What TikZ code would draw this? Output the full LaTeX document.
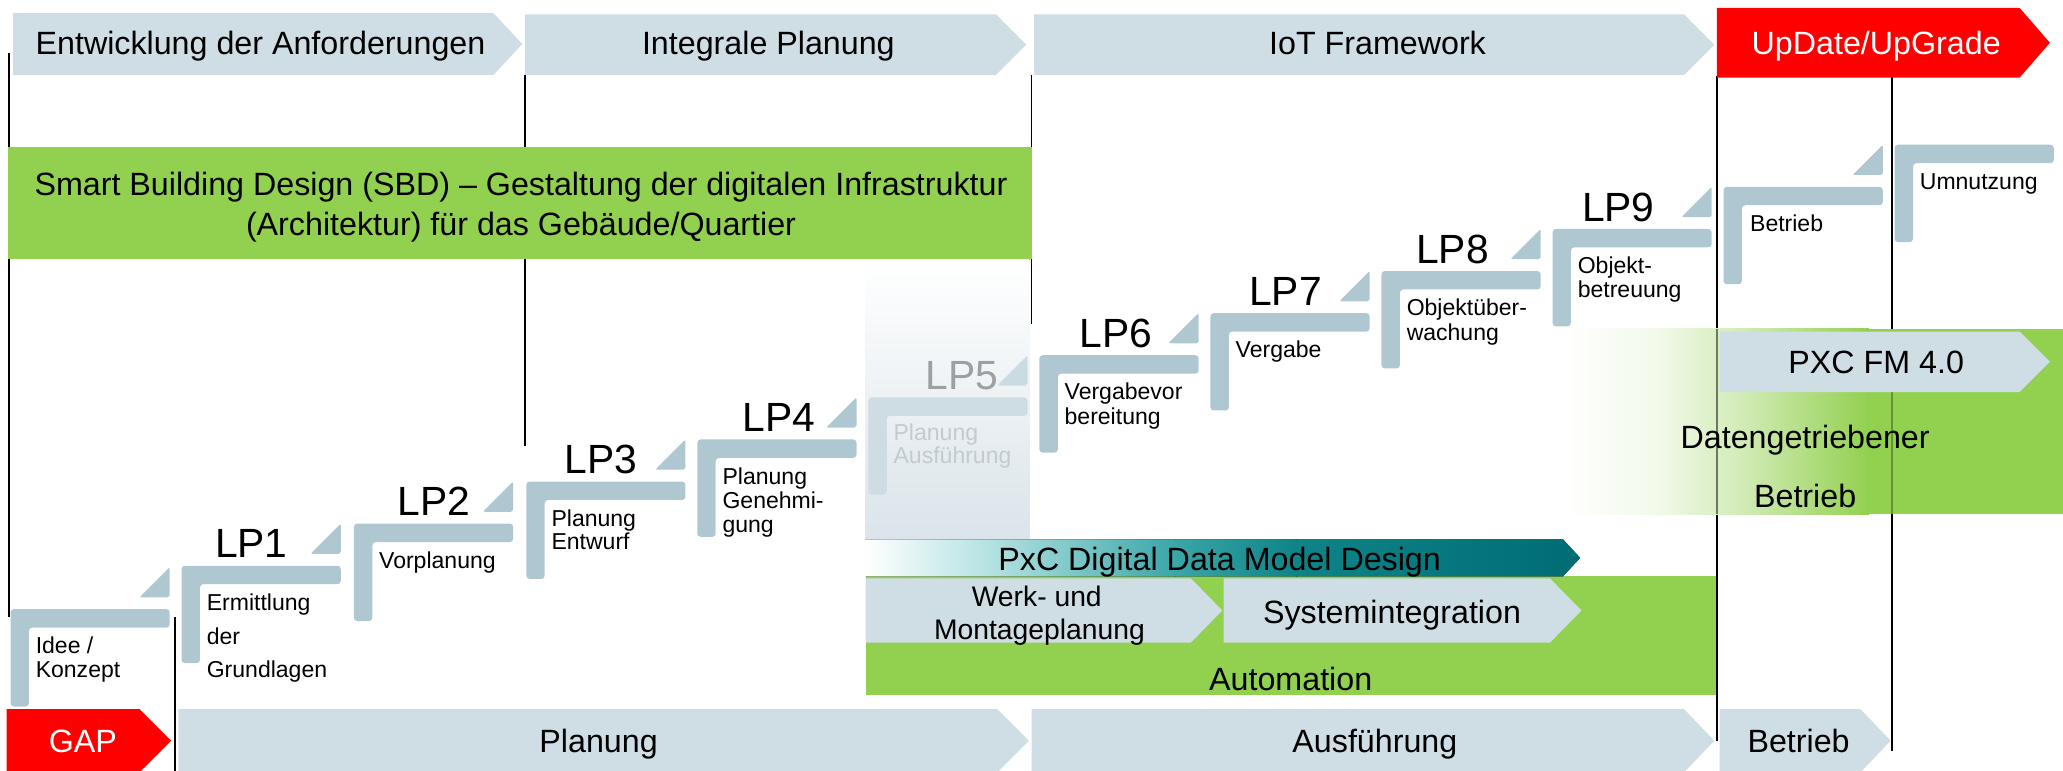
\documentclass[tikz,border=0pt]{standalone}
\usepackage{fontspec}
\setmainfont{Liberation Sans}
\definecolor{arr}{RGB}{207,221,229}
\definecolor{stp}{RGB}{174,199,209}
\definecolor{gr}{RGB}{146,208,80}
\definecolor{rd}{RGB}{255,0,0}
\definecolor{stpf}{RGB}{206,221,227}
\definecolor{rampf}{RGB}{203,219,226}
\definecolor{colbg}{RGB}{218,228,234}
\definecolor{lpf}{RGB}{155,160,163}
\definecolor{subf}{RGB}{195,203,207}
\definecolor{pxa}{RGB}{176,224,224}
\definecolor{pxb}{RGB}{58,166,168}
\definecolor{pxc}{RGB}{14,132,136}
\definecolor{pxd}{RGB}{0,108,116}
\newcommand{\chevpath}[5]{(#1,#4) -- (#2,#4) -- (#3,{(#4+#5)/2}) -- (#2,#5) -- (#1,#5) -- cycle}
\newcommand{\stairpath}[2]{(#1,#2) -- ({#1+121},#2) -- ({#1+121},{#2+14}) -- ({#1+14},{#2+14}) -- ({#1+14},{#2+74}) -- (#1,{#2+74}) -- cycle}
\newcommand{\ramppath}[2]{({#1+98},{#2-9}) -- ({#1+121},{#2-9}) -- ({#1+121},{#2-32}) -- cycle}
\newcommand{\vlines}[2]{\vtop{\baselineskip=#1pt\lineskiplimit=-20pt\relax #2}}
\tikzset{
 sep/.style={line width=1.3pt, black},
 bigt/.style={font=\fontsize{24.5}{29}\selectfont, inner sep=0pt, anchor=base},
 lpt/.style={font=\fontsize{31}{37}\selectfont, inner sep=0pt, anchor=base},
 subt/.style={font=\fontsize{17.5}{19}\selectfont, inner sep=0pt, anchor=base west},
 midt/.style={font=\fontsize{21.5}{25}\selectfont, inner sep=0pt, anchor=base},
}
\begin{document}
\begin{tikzpicture}[x=1pt,y=-1pt]
\useasboundingbox (0,0) rectangle (1568,586);
% separator lines
\coordinate (s1a) at (7,40); \coordinate (s1b) at (7,469);
\coordinate (s2a) at (133,469); \coordinate (s2b) at (133,587);
\coordinate (s3a) at (399,57); \coordinate (s3b) at (399,339);
\coordinate (s4a) at (784,57); \coordinate (s4b) at (784,246);
\coordinate (s5a) at (1305,58); \coordinate (s5b) at (1305,563);
\coordinate (s6a) at (1438,58); \coordinate (s6b) at (1438,571);
\foreach \a/\b in {s1a/s1b,s2a/s2b,s3a/s3b,s4a/s4b,s5a/s5b,s6a/s6b} \draw[sep] (\a) -- (\b);

% top row
\fill[arr] \chevpath{10}{375}{397}{10}{57};
\fill[arr] \chevpath{399}{757}{780}{11}{57};
\fill[arr] \chevpath{786}{1280}{1303}{11}{57};
\fill[rd] \chevpath{1305}{1535}{1558}{6}{59};
\node[bigt] (t1) at (198,41.8) {Entwicklung der Anforderungen};
\node[bigt] (t2) at (584,41.8) {Integrale Planung};
\node[bigt] (t3) at (1047,41.8) {IoT Framework};
\node[bigt, text=white] (t4) at (1426,41.8) {UpDate/UpGrade};

% SBD band
\fill[gr] (6.3,112) rectangle (784.6,197);
\node[bigt] (sbd1) at (396,148.8) {Smart Building Design (SBD) – Gestaltung der digitalen Infrastruktur};
\node[bigt] (sbd2) at (396,178.8) {(Architektur) für das Gebäude/Quartier};

% faded LP5 column
\fill[top color=white, bottom color=colbg] (658,197) rectangle (782.5,410);

% stairs
\foreach \x/\t in {8/463,138/430,269/398,400/366,530/334,790/270,920/238,1050/206,1180/174,1310/142,1440/110}
  \fill[stp, rounded corners=2.5pt] \stairpath{\x}{\t};
\foreach \x/\t in {8/463,138/430,269/398,400/366,530/334,790/270,920/238,1050/206,1180/174,1310/142}
  \fill[stp, rounded corners=1.5pt] \ramppath{\x}{\t};
\fill[stpf, rounded corners=2.5pt] \stairpath{660}{302};
\fill[rampf, rounded corners=1.5pt] \ramppath{660}{302};

% LP labels
\node[lpt] (lp1) at (191,424) {LP1};
\node[lpt] (lp2) at (330,392) {LP2};
\node[lpt] (lp3) at (457,360) {LP3};
\node[lpt] (lp4) at (592,328) {LP4};
\node[lpt, text=lpf] (lp5) at (731,296) {LP5};
\node[lpt] (lp6) at (848,264) {LP6};
\node[lpt] (lp7) at (977,232) {LP7};
\node[lpt] (lp8) at (1104,200) {LP8};
\node[lpt] (lp9) at (1230,168) {LP9};

% stair texts
\node[subt] (st0) at (27,497) {\vlines{18}{\hbox{Idee /}\hbox{Konzept}}};
\node[subt] (st1) at (157,464) {\vlines{25.5}{\hbox{Ermittlung}\hbox{der}\hbox{Grundlagen}}};
\node[subt] (st2) at (288,432) {Vorplanung};
\node[subt] (st3) at (419,400) {\vlines{18}{\hbox{Planung}\hbox{Entwurf}}};
\node[subt] (st4) at (549,368) {\vlines{18.5}{\hbox{Planung}\hbox{Genehmi-}\hbox{gung}}};
\node[subt, text=subf] (st5) at (679,335) {\vlines{17.5}{\hbox{Planung}\hbox{Ausführung}}};
\node[subt] (st6) at (809,304) {\vlines{19}{\hbox{Vergabevor}\hbox{bereitung}}};
\node[subt] (st7) at (939,272) {Vergabe};
\node[subt] (st8) at (1069,240) {\vlines{19}{\hbox{Objektüber-}\hbox{wachung}}};
\node[subt] (st9) at (1199,208) {\vlines{18}{\hbox{Objekt-}\hbox{betreuung}}};
\node[subt] (st10) at (1330,176) {Betrieb};
\node[subt] (st11) at (1459,144) {Umnutzung};

% data driven operation
\fill[gr] (1420,250) rectangle (1568,391);
\fill[left color=white, right color=gr!12] (1188,250) rectangle (1260.5,391);
\fill[left color=gr!12, right color=gr!45] (1260,250) rectangle (1330.5,391);
\fill[left color=gr!45, right color=gr] (1330,250) rectangle (1420.5,391);
\coordinate (f5a) at (1305,250); \coordinate (f5b) at (1305,391);
\coordinate (f6a) at (1438,298); \coordinate (f6b) at (1438,391);
\draw[sep, opacity=0.5] (f5a) -- (f5b);
\draw[sep, opacity=0.3] (f6a) -- (f6b);
\fill[arr] \chevpath{1307}{1535}{1558}{252}{298};
\node[bigt] (pfm) at (1426,283.8) {PXC FM 4.0};
\node[bigt] (dat1) at (1372,340.8) {Datengetriebener};
\node[bigt] (dat2) at (1372,385.8) {Betrieb};

% automation block
\fill[gr] (658,438) rectangle (1304.3,528);
\fill[arr] \chevpath{658}{905}{929}{439.5}{488.5};
\fill[arr] \chevpath{930}{1178}{1202}{439.5}{488.5};
\begin{scope}
  \clip \chevpath{658}{1188}{1201}{410}{438};
  \fill[left color=white, right color=pxa] (657,409) rectangle (757.5,439);
  \fill[left color=pxa, right color=pxb] (757,409) rectangle (893.5,439);
  \fill[left color=pxb, right color=pxc] (893,409) rectangle (985.5,439);
  \fill[left color=pxc, right color=pxd] (985,409) rectangle (1203,439);
\end{scope}
\node[bigt] (pxcdd) at (927,433.8) {PxC Digital Data Model Design};
\node[midt] (werk1) at (788,461.2) {Werk- und};
\node[midt] (werk2) at (790,485.7) {Montageplanung};
\node[bigt] (sysi) at (1058,473.8) {Systemintegration};
\node[bigt] (auto) at (981,524.8) {Automation};

% bottom row
\fill[rd] \chevpath{5}{106}{130}{539}{587};
\fill[arr] \chevpath{135.5}{758}{782}{539}{587};
\fill[arr] \chevpath{784}{1280}{1303}{539}{587};
\fill[arr] \chevpath{1307}{1414}{1437}{539}{587};
\node[bigt, text=white] (gap) at (63,571.8) {GAP};
\node[bigt] (pl) at (455,571.8) {Planung};
\node[bigt] (af) at (1045,571.8) {Ausführung};
\node[bigt] (bt) at (1367,571.8) {Betrieb};
\end{tikzpicture}
\end{document}
